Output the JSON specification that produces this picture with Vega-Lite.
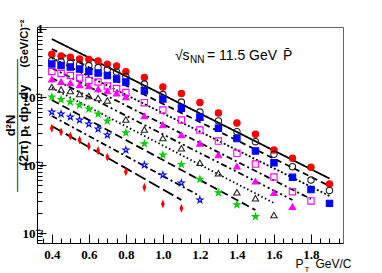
{
  "$schema": "https://vega.github.io/schema/vega-lite/v6.json",
  "width": 306,
  "height": 216,
  "autosize": {"type": "none"},
  "padding": {"left": 37, "top": 27, "right": 39, "bottom": 30},
  "background": "white",
  "config": {
    "view": {"stroke": "#666666", "strokeWidth": 1},
    "axis": {"grid": false, "domainColor": "#000000", "tickColor": "#000000", "labelFont": "Liberation Serif", "labelFontWeight": "bold", "labelFontSize": 13, "labelColor": "#000000", "titleFont": "Liberation Sans", "titleColor": "#000000", "titleFontWeight": "normal"}
  },
  "datasets": {
    "pts": [
      {"s":"a","x":0.4,"y":0.4245},{"s":"a","x":0.45,"y":0.4008},{"s":"a","x":0.5,"y":0.3835},{"s":"a","x":0.55,"y":0.3621},{"s":"a","x":0.6,"y":0.356},{"s":"a","x":0.65,"y":0.3383},{"s":"a","x":0.7,"y":0.3027},{"s":"a","x":0.75,"y":0.2857},{"s":"a","x":0.8,"y":0.2355},{"s":"a","x":0.9,"y":0.1935},{"s":"a","x":1.0,"y":0.1403},{"s":"a","x":1.1,"y":0.1126},{"s":"a","x":1.2,"y":0.083},{"s":"a","x":1.3,"y":0.0582},{"s":"a","x":1.4,"y":0.0415},{"s":"a","x":1.5,"y":0.0283},{"s":"a","x":1.6,"y":0.0166},{"s":"a","x":1.7,"y":0.01255},{"s":"a","x":1.8,"y":0.00925},{"s":"a","x":1.9,"y":0.00526},
      {"s":"b","x":0.4,"y":0.3441},{"s":"b","x":0.45,"y":0.3326},{"s":"b","x":0.5,"y":0.3162},{"s":"b","x":0.55,"y":0.3005},{"s":"b","x":0.6,"y":0.2905},{"s":"b","x":0.65,"y":0.2715},{"s":"b","x":0.7,"y":0.2537},{"s":"b","x":0.75,"y":0.2331},{"s":"b","x":0.8,"y":0.2002},{"s":"b","x":0.9,"y":0.1553},{"s":"b","x":1.0,"y":0.1088},{"s":"b","x":1.1,"y":0.0844},{"s":"b","x":1.2,"y":0.0602},{"s":"b","x":1.3,"y":0.0444},{"s":"b","x":1.4,"y":0.0309},{"s":"b","x":1.5,"y":0.022},{"s":"b","x":1.6,"y":0.01437},{"s":"b","x":1.7,"y":0.00944},{"s":"b","x":1.8,"y":0.00602},{"s":"b","x":1.9,"y":0.00422},
      {"s":"c","x":0.4,"y":0.3056},{"s":"c","x":0.45,"y":0.2905},{"s":"c","x":0.5,"y":0.2762},{"s":"c","x":0.55,"y":0.2581},{"s":"c","x":0.6,"y":0.2371},{"s":"c","x":0.65,"y":0.2254},{"s":"c","x":0.7,"y":0.2071},{"s":"c","x":0.75,"y":0.1839},{"s":"c","x":0.8,"y":0.1662},{"s":"c","x":0.9,"y":0.1238},{"s":"c","x":1.0,"y":0.0935},{"s":"c","x":1.1,"y":0.0682},{"s":"c","x":1.2,"y":0.0503},{"s":"c","x":1.3,"y":0.0347},{"s":"c","x":1.4,"y":0.0245},{"s":"c","x":1.5,"y":0.0161},{"s":"c","x":1.6,"y":0.0108},{"s":"c","x":1.7,"y":0.00659},{"s":"c","x":1.8,"y":0.00436},{"s":"c","x":1.9,"y":0.00273},
      {"s":"d","x":0.4,"y":0.2371},{"s":"d","x":0.45,"y":0.2216},{"s":"d","x":0.5,"y":0.2071},{"s":"d","x":0.55,"y":0.1903},{"s":"d","x":0.6,"y":0.1749},{"s":"d","x":0.65,"y":0.1662},{"s":"d","x":0.7,"y":0.1452},{"s":"d","x":0.75,"y":0.1334},{"s":"d","x":0.8,"y":0.1165},{"s":"d","x":0.9,"y":0.0824},{"s":"d","x":1.0,"y":0.0644},{"s":"d","x":1.1,"y":0.0459},{"s":"d","x":1.2,"y":0.0327},{"s":"d","x":1.3,"y":0.0225},{"s":"d","x":1.4,"y":0.01486},{"s":"d","x":1.5,"y":0.01034},{"s":"d","x":1.6,"y":0.00666},{"s":"d","x":1.7,"y":0.00405},{"s":"d","x":1.8,"y":0.00296},
      {"s":"e","x":0.4,"y":0.1821},{"s":"e","x":0.45,"y":0.1679},{"s":"e","x":0.5,"y":0.1607},{"s":"e","x":0.55,"y":0.1501},{"s":"e","x":0.6,"y":0.1452},{"s":"e","x":0.65,"y":0.1311},{"s":"e","x":0.7,"y":0.1225},{"s":"e","x":0.75,"y":0.1134},{"s":"e","x":0.8,"y":0.1},{"s":"e","x":0.9,"y":0.0525},{"s":"e","x":1.0,"y":0.0388},{"s":"e","x":1.1,"y":0.0276},{"s":"e","x":1.2,"y":0.0208},{"s":"e","x":1.3,"y":0.01403},{"s":"e","x":1.4,"y":0.00957},{"s":"e","x":1.5,"y":0.00576},{"s":"e","x":1.6,"y":0.00391},{"s":"e","x":1.7,"y":0.00244},
      {"s":"f","x":0.4,"y":0.1403},{"s":"f","x":0.45,"y":0.1289},{"s":"f","x":0.5,"y":0.1225},{"s":"f","x":0.55,"y":0.1107},{"s":"f","x":0.6,"y":0.1034},{"s":"f","x":0.65,"y":0.0967},{"s":"f","x":0.7,"y":0.0888},{"s":"f","x":0.8,"y":0.0467},{"s":"f","x":0.9,"y":0.0333},{"s":"f","x":1.0,"y":0.0249},{"s":"f","x":1.1,"y":0.0176},{"s":"f","x":1.2,"y":0.0108},{"s":"f","x":1.3,"y":0.00755},{"s":"f","x":1.4,"y":0.00397},{"s":"f","x":1.5,"y":0.00324},{"s":"f","x":1.6,"y":0.00184},
      {"s":"g","x":0.4,"y":0.1},{"s":"g","x":0.45,"y":0.0919},{"s":"g","x":0.5,"y":0.0844},{"s":"g","x":0.55,"y":0.0763},{"s":"g","x":0.6,"y":0.0666},{"s":"g","x":0.65,"y":0.0562},{"s":"g","x":0.7,"y":0.0444},{"s":"g","x":0.8,"y":0.0299},{"s":"g","x":0.9,"y":0.0206},{"s":"g","x":1.0,"y":0.01403},{"s":"g","x":1.1,"y":0.01017},{"s":"g","x":1.2,"y":0.00616},{"s":"g","x":1.3,"y":0.00391},{"s":"g","x":1.4,"y":0.00261},{"s":"g","x":1.5,"y":0.00174},
      {"s":"h","x":0.4,"y":0.0602},{"s":"h","x":0.45,"y":0.0562},{"s":"h","x":0.5,"y":0.0508},{"s":"h","x":0.55,"y":0.0459},{"s":"h","x":0.6,"y":0.0401},{"s":"h","x":0.65,"y":0.0338},{"s":"h","x":0.7,"y":0.0276},{"s":"h","x":0.8,"y":0.0166},{"s":"h","x":0.9,"y":0.01},{"s":"h","x":1.0,"y":0.00713},{"s":"h","x":1.1,"y":0.00544},{"s":"h","x":1.2,"y":0.00306},
      {"s":"i","x":0.4,"y":0.0347},{"s":"i","x":0.45,"y":0.0306},{"s":"i","x":0.5,"y":0.0267},{"s":"i","x":0.55,"y":0.0233},{"s":"i","x":0.6,"y":0.019},{"s":"i","x":0.65,"y":0.0163},{"s":"i","x":0.7,"y":0.0131},{"s":"i","x":0.8,"y":0.00797},{"s":"i","x":0.9,"y":0.0047},{"s":"i","x":1.0,"y":0.00267},{"s":"i","x":1.1,"y":0.00231}
    ],
    "fits": [
      {"s":"a","x":0.4,"y":0.713},{"s":"a","x":1.9,"y":0.00633},
      {"s":"b","x":0.4,"y":0.508},{"s":"b","x":1.9,"y":0.00491},
      {"s":"c","x":0.4,"y":0.375},{"s":"c","x":1.9,"y":0.0035},
      {"s":"d","x":0.4,"y":0.267},{"s":"d","x":1.8,"y":0.00316},
      {"s":"e","x":0.4,"y":0.19},{"s":"e","x":1.7,"y":0.00306},
      {"s":"f","x":0.4,"y":0.136},{"s":"f","x":1.6,"y":0.00276},
      {"s":"g","x":0.4,"y":0.0904},{"s":"g","x":1.5,"y":0.00218},
      {"s":"h","x":0.4,"y":0.0526},{"s":"h","x":1.2,"y":0.0035},
      {"s":"i","x":0.4,"y":0.0375},{"s":"i","x":1.1,"y":0.00306}
    ]
  },
  "resolve": {"axis": {"x": "independent", "y": "independent"}},
  "layer": [
    {
      "data": {"name": "fits"},
      "mark": {"type": "line", "color": "#000000", "strokeWidth": 1.8, "clip": true},
      "encoding": {
        "x": {"field": "x", "type": "quantitative", "scale": {"domain": [0.32, 1.973], "nice": false, "zero": false},
          "axis": {"orient": "bottom", "values": [0.35,0.4,0.45,0.5,0.55,0.6,0.65,0.7,0.75,0.8,0.85,0.9,0.95,1.0,1.05,1.1,1.15,1.2,1.25,1.3,1.35,1.4,1.45,1.5,1.55,1.6,1.65,1.7,1.75,1.8,1.85,1.9,1.95],
            "labelExpr": "abs(datum.value*5 - round(datum.value*5)) < 0.001 ? format(datum.value, '.1f') : ''",
            "tickSize": {"condition": {"test": "abs(datum.value*5 - round(datum.value*5)) < 0.001", "value": -9}, "value": -5},
            "labelPadding": 14, "labelFlush": false, "labelOverlap": false,
            "title": "P", "titleFontSize": 12, "titleX": 258, "titleY": 24, "titleAlign": "left", "titleBaseline": "alphabetic", "titleAnchor": null}},
        "y": {"field": "y", "type": "quantitative", "scale": {"type": "log", "domain": [0.000713, 1.07], "nice": false},
          "axis": {"orient": "left", "values": [0.0008,0.0009,0.001,0.002,0.003,0.004,0.005,0.006,0.007,0.008,0.009,0.01,0.02,0.03,0.04,0.05,0.06,0.07,0.08,0.09,0.1,0.2,0.3,0.4,0.5,0.6,0.7,0.8,0.9,1],
            "labelExpr": "datum.value > 0.99 ? '1' : (datum.value > 0.099 && datum.value < 0.101) ? '10⁻¹' : (datum.value > 0.0099 && datum.value < 0.0101) ? '10⁻²' : (datum.value > 0.00099 && datum.value < 0.00101) ? '10⁻³' : ''",
            "tickSize": {"condition": {"test": "abs(log(datum.value)/LN10 - round(log(datum.value)/LN10)) < 0.001", "value": -9}, "value": -5},
            "labelPadding": 3, "labelFlush": false, "labelOverlap": false,
            "title": ["d²N", "(2π) pₜ dpₜ dy"], "titleFontSize": 13, "titleFontWeight": "bold", "titleAngle": -90, "titleX": -23, "titleY": 98, "titleAlign": "center", "titleBaseline": "alphabetic", "titleLineHeight": 13}},
        "strokeDash": {"field": "s", "type": "nominal", "legend": null,
          "scale": {"domain": ["a","b","c","d","e","f","g","h","i"], "range": [[1,0],[6,4],[2,2],[6,3,2,3],[6,3,2,3,2,3],[1.5,2.5],[8,4],[6,3,2,3],[12,4]]}},
        "detail": {"field": "s"}
      }
    },
    {
      "data": {"name": "pts"},
      "mark": {"type": "point", "opacity": 1, "strokeWidth": 1.1},
      "encoding": {
        "x": {"field": "x", "type": "quantitative", "axis": {"orient": "bottom", "labels": false, "ticks": false, "domain": false, "title": "T", "titleFontSize": 8, "titleX": 267, "titleY": 28, "titleAlign": "left", "titleBaseline": "alphabetic"}},
        "y": {"field": "y", "type": "quantitative", "axis": {"orient": "left", "labels": false, "ticks": false, "domain": false, "title": "(GeV/C)⁻²", "titleFontSize": 11, "titleFontWeight": "bold", "titleAngle": -90, "titleX": -10, "titleY": 16, "titleAlign": "center", "titleBaseline": "alphabetic"}},
        "shape": {"field": "s", "type": "nominal", "legend": null,
          "scale": {"domain": ["a","b","c","d","e","f","g","h","i"], "range": ["circle","circle","square","square","triangle-up","triangle-up","M0,-1L0.2245,-0.309L0.9511,-0.309L0.3633,0.118L0.5878,0.809L0,0.382L-0.5878,0.809L-0.3633,0.118L-0.9511,-0.309L-0.2245,-0.309Z","M0,-1L0.2245,-0.309L0.9511,-0.309L0.3633,0.118L0.5878,0.809L0,0.382L-0.5878,0.809L-0.3633,0.118L-0.9511,-0.309L-0.2245,-0.309Z","M0,-1L0.42,0L0,1L-0.42,0Z"]}},
        "fill": {"field": "s", "type": "nominal", "legend": null,
          "scale": {"domain": ["a","b","c","d","e","f","g","h","i"], "range": ["#ff0000","transparent","#0000ff","transparent","#ff00ff","transparent","#00ee00","transparent","#ff0000"]}},
        "stroke": {"field": "s", "type": "nominal", "legend": null,
          "scale": {"domain": ["a","b","c","d","e","f","g","h","i"], "range": ["#ff0000","#222222","#0000ff","#ff00ff","#ff00ff","#222222","#00cc00","#0000ff","#ff0000"]}},
        "size": {"field": "s", "type": "nominal", "legend": null,
          "scale": {"domain": ["a","b","c","d","e","f","g","h","i"], "range": [40,40,40,40,50,50,100,100,110]}}
      }
    },
    {
      "data": {"values": [{"x": 1.065, "y": 0.35, "t": "√s"}, {"x": 1.238, "y": 0.35, "t": "= 11.5 GeV"}, {"x": 1.649, "y": 0.35, "t": "P̄"}]},
      "mark": {"type": "text", "align": "left", "baseline": "alphabetic", "font": "Liberation Sans", "fontSize": 14, "color": "#000000"},
      "encoding": {
        "x": {"field": "x", "type": "quantitative", "axis": {"orient": "bottom", "labels": false, "ticks": false, "domain": false, "title": "GeV/C", "titleFontSize": 12, "titleX": 278, "titleY": 24, "titleAlign": "left", "titleBaseline": "alphabetic"}},
        "y": {"field": "y", "type": "quantitative", "axis": null},
        "text": {"field": "t"}
      }
    },
    {
      "data": {"values": [{"x": 1.146, "y": 0.316, "t": "NN"}]},
      "mark": {"type": "text", "align": "left", "baseline": "alphabetic", "font": "Liberation Sans", "fontSize": 10, "color": "#000000"},
      "encoding": {
        "x": {"field": "x", "type": "quantitative", "axis": null},
        "y": {"field": "y", "type": "quantitative", "axis": {"orient": "left", "labels": false, "ticks": false, "domain": false, "title": "──────────────────────", "titleFont": "DejaVu Sans", "titleFontSize": 10, "titleAngle": -90, "titleX": -17, "titleY": 98, "titleAlign": "center", "titleBaseline": "alphabetic"}},
        "text": {"field": "t"}
      }
    }
  ]
}
